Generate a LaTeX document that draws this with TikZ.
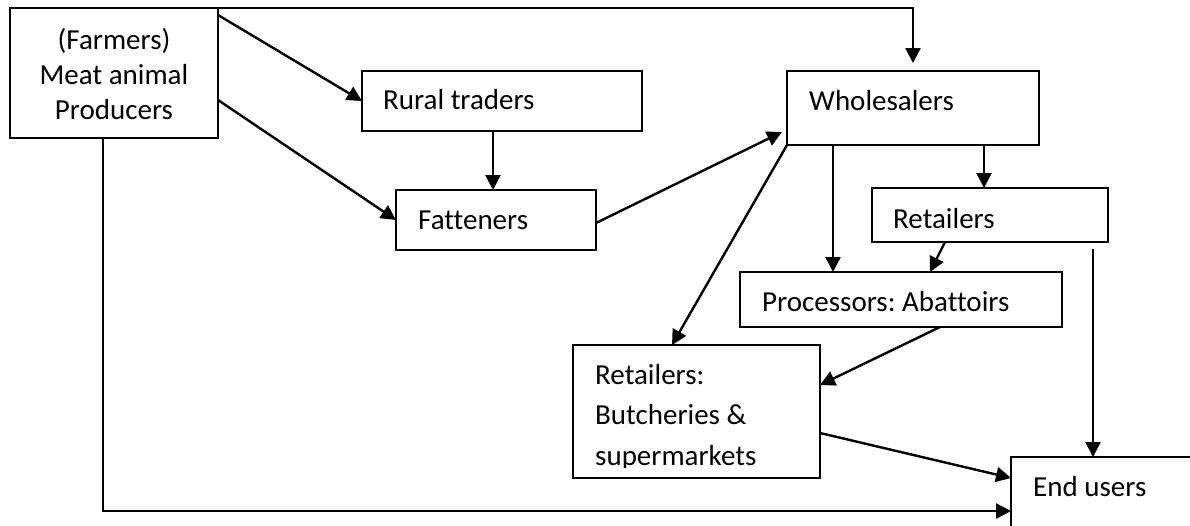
\documentclass[tikz,border=0pt]{standalone}
\usepackage{fontspec}
\setmainfont{Carlito}[Ligatures=NoCommon]
\usetikzlibrary{arrows.meta,calc}
\frenchspacing
\begin{document}
\begin{tikzpicture}[x=1pt,y=-1pt,
  box/.style={draw,line width=2.2pt,rectangle,inner sep=0pt,outer sep=0pt,anchor=north west},
  lbl/.style={anchor=base west,inner sep=0pt,font=\fontsize{29}{35}\selectfont},
  arr/.style={line width=2.4pt,-{Triangle[length=15pt,width=15pt]}}]
\clip (0,0) rectangle (1190,525);
\fill[white] (0,0) rectangle (1190,525);
% boxes
\node[box,minimum width=208pt,minimum height=130pt] (far) at (10,8) {};
\node[box,minimum width=280pt,minimum height=60pt] (rt) at (362,71) {};
\node[box,minimum width=200pt,minimum height=60pt] (fat) at (396,190) {};
\node[box,minimum width=252pt,minimum height=74pt] (who) at (787,71) {};
\node[box,minimum width=236pt,minimum height=54pt] (ret) at (872,188) {};
\node[box,minimum width=322pt,minimum height=55pt] (proc) at (740,272) {};
\node[box,minimum width=247pt,minimum height=133pt] (butch) at (573,345) {};
\node[box,minimum width=250pt,minimum height=120pt] (endu) at (1011,457) {};
% texts
\node[lbl,anchor=base,align=center] (fart) at (114,119) {(Farmers)\\Meat animal\\Producers};
\node[lbl] (rtt) at (383,109) {Rural traders};
\node[lbl] (fatt) at (418,229) {Fatteners};
\node[lbl] (whot) at (809,110) {Wholesalers};
\node[lbl] (rett) at (893,228) {Retailers};
\node[lbl] (proct) at (762,311) {Processors: Abattoirs};
\begin{scope}
\clip (573,345) rectangle (820,467);
\node[lbl,align=left,font=\fontsize{29}{40.5}\selectfont] (butcht) at (595,465) {Retailers:\\Butcheries \&\\supermarkets};
\end{scope}
\node[lbl] (endt) at (1033,496) {End users};
% connector end points
\coordinate (w1) at ($(who.south)+(-80,0)$);
\coordinate (w1e) at (w1 |- proc.north);
\coordinate (r1) at ($(ret.south east)+(-15,7)$);
\coordinate (r1e) at (r1 |- endu.north);
\coordinate (f1) at ($(far.south)+(-11,0)$);
\coordinate (e1) at ($(endu.north west)+(0,54)$);
% connectors
\draw[arr,shorten >=8pt] (far.north east) -| (who.north);
\draw[arr] ($(far.north east)+(0,7)$) -- (rt.west);
\draw[arr] ($(far.south east)+(0,-38)$) -- (fat.west);
\draw[arr] ($(rt.south)+(-9,0)$) -- ($(fat.north)+(-3,0)$);
\draw[arr] ($(fat.east)+(0,3)$) -- ($(who.south west)+(-5,-13)$);
\draw[arr] ($(who.south)+(71,0)$) -- ($(ret.north)+(-6,0)$);
\draw[arr] (w1) -- (w1e);
\draw[arr] ($(ret.south)+(-45,0)$) -- ($(proc.north)+(29,0)$);
\draw[arr] (who.south west) -- ($(butch.north)+(-24.5,0)$);
\draw[arr] ($(proc.south)+(39,0)$) -- ($(butch.east)+(0,-26.5)$);
\draw[arr] ($(butch.east)+(0,21.5)$) -- ($(endu.north west)+(0,21)$);
\draw[arr] (r1) -- (r1e);
\draw[arr] (f1) |- (e1);
\end{tikzpicture}
\end{document}
